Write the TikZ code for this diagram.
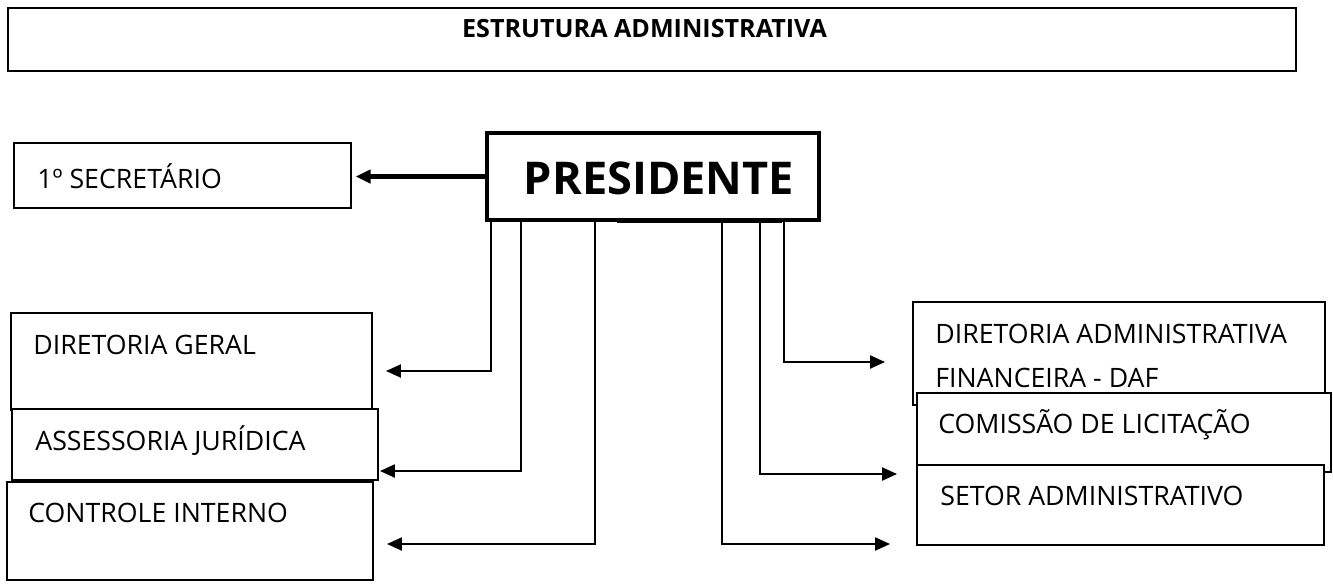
\documentclass[tikz,border=0pt]{standalone}
\usepackage{fontspec}
\setmainfont{Open Sans}
\usetikzlibrary{arrows.meta,positioning}

\tikzset{
  caixa/.style={draw, fill=white, line width=0.85pt, inner sep=0pt},
  rotulo/.style={anchor=west, inner sep=0pt, font=\fontsize{15.2}{18}\selectfont},
  liga/.style={line width=0.9pt, -{Triangle[length=8.5pt,width=7.5pt]}},
}

\begin{document}
\begin{tikzpicture}[x=0.02cm,y=-0.02cm]
\useasboundingbox (0,0) rectangle (1333,583);

% titulo
\node[caixa, minimum width=25.76cm, minimum height=1.26cm] (titulo) at (652,39.5) {};
\node[inner sep=0pt, font=\fontsize{14.3}{17}\selectfont\bfseries] (titulotxt) at (644.5,29) {ESTRUTURA ADMINISTRATIVA};

% presidente e secretario
\node[draw, line width=2.3pt, inner sep=0pt, minimum width=6.64cm, minimum height=1.74cm] (pres) at (653,176.5) {};
\node[inner sep=0pt, font=\fontsize{25.7}{30}\selectfont\bfseries] (prestxt) at (659,178) {PRESIDENTE};
\draw[line width=2pt] (617,221) -- (782,221);
\node[caixa, minimum width=6.74cm, minimum height=1.3cm] (sec) at (182.5,175.5) {};
\node[rotulo] (sectxt) at (37,176) {1º SECRETÁRIO};

% lado esquerdo
\node[caixa, minimum width=7.22cm, minimum height=1.94cm] (dg) at (191.5,361.5) {};
\node[caixa, minimum width=7.32cm, minimum height=1.42cm] (aj) at (195,444.5) {};
\node[caixa, minimum width=7.32cm, minimum height=1.96cm] (ci) at (190,531) {};
\node[rotulo] (dgtxt) at (33,345) {DIRETORIA GERAL};
\node[rotulo] (ajtxt) at (35,441) {ASSESSORIA JURÍDICA};
\node[rotulo] (citxt) at (28,513) {CONTROLE INTERNO};

% lado direito
\node[caixa, minimum width=8.24cm, minimum height=2.06cm] (daf) at (1119,353.5) {};
\node[caixa, minimum width=8.28cm, minimum height=1.58cm] (cl) at (1124,432.5) {};
\node[caixa, minimum width=8.14cm, minimum height=1.6cm] (sa) at (1120.5,505) {};
\node[rotulo] (daftxt) at (935,334) {DIRETORIA ADMINISTRATIVA};
\node[rotulo] (daftxtb) at (935,378) {FINANCEIRA - DAF};
\node[rotulo] (cltxt) at (938,425) {COMISSÃO DE LICITAÇÃO};
\node[rotulo] (satxt) at (940,496) {SETOR ADMINISTRATIVO};

% pontas das setas
\coordinate (pdg) at (386,371);
\coordinate (paj) at (380,471);
\coordinate (pci) at (387,544);
\coordinate (pdaf) at (885,362);
\coordinate (pcl) at (897,474);
\coordinate (psa) at (890,544);

% ligacoes
\draw[line width=2.6pt, -{Triangle[length=8.5pt,width=7.5pt]}, shorten >=0.08cm] (pres.west) -- (pres.west -| sec.east);
\draw[liga] ([xshift=0.12cm]pres.south west) |- (pdg);
\draw[liga] ([xshift=0.72cm]pres.south west) |- (paj);
\draw[liga] ([xshift=2.2cm]pres.south west) |- (pci);
\draw[liga] ([xshift=-0.74cm]pres.south east) |- (pdaf);
\draw[liga] ([xshift=-1.22cm]pres.south east) |- (pcl);
\draw[liga] ([xshift=-1.98cm]pres.south east) |- (psa);
\end{tikzpicture}
\end{document}
